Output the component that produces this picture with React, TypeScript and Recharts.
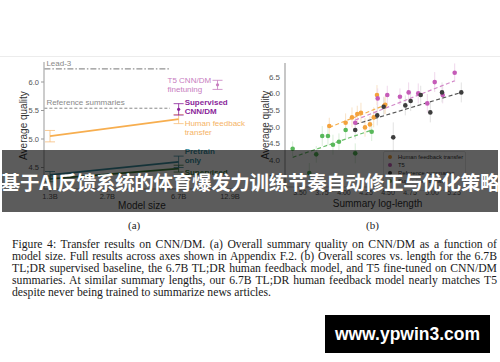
import React from 'react';
import { ComposedChart, Line, Scatter, XAxis, YAxis, ErrorBar } from 'recharts';

// (a) quality vs model size
const modelSizeTicks = [1.3, 2.7, 6.7, 12.9];
const qualityTicksA = [4.5, 5.0, 5.5, 6.0];
const transferSizes = [1.3, 6.7];
const hfTransferQuality = [5.05, 5.35];
const hfTransferErr = [0.1, 0.08];
const pretrainQuality = [4.37, 4.6];
const pretrainErr = [0.06, 0.1];
const supervisedQuality = [4.3, 4.48];
const supervisedErr = [0.05, 0.06];
const supCnnSize = [6.7];
const supCnnQuality = [5.52];
const supCnnErr = [0.1];
const t5Size = [11];
const t5Quality = [5.95];
const t5Err = [0.08];
const baselineSpan = [1.21, 6.0];
const lead3Quality = 6.23;
const referenceQuality = 5.54;

// (b) quality vs summary log-length
const logLenTicks = [3.5, 3.75, 4.0, 4.25, 4.5, 4.75, 5.0, 5.25];
const qualityTicksB = [3.5, 4.0, 4.5, 5.0, 5.5, 6.0, 6.5];
const supLogLen = [3.417, 3.606, 3.685, 3.753, 3.818, 3.875, 3.943, 4.019, 4.128, 4.315];
const supQuality = [4.34, 3.61, 4.17, 4.72, 4.72, 4.46, 4.55, 4.9, 4.2, 4.85];
const supErr = [0.22, 0.3, 0.25, 0.3, 0.28, 0.3, 0.25, 0.3, 0.3, 0.28];
const supFitLen = [3.417, 4.315];
const supFit = [4.08, 4.9];
const hfLogLen = [3.833, 4.019, 4.091, 4.151, 4.193, 4.239, 4.295, 4.338, 4.375, 4.458, 4.469];
const hfQuality = [5.02, 5.12, 5.28, 5.38, 5.42, 4.98, 5.07, 5.28, 5.95, 5.63, 5.66];
const hfErr = [0.25, 0.28, 0.3, 0.25, 0.3, 0.28, 0.25, 0.3, 0.3, 0.25, 0.28];
const hfFitLen = [3.833, 4.469];
const hfFit = [4.98, 5.65];
const t5LogLen = [4.128, 4.383, 4.492, 4.636, 4.735, 4.844, 4.947, 5.031, 5.122, 5.258];
const t5QualityB = [5.12, 5.85, 5.95, 5.9, 6.03, 6.0, 5.7, 6.34, 5.95, 6.62];
const t5ErrB = [0.25, 0.3, 0.28, 0.25, 0.3, 0.3, 0.28, 0.3, 0.25, 0.28];
const t5FitLen = [4.128, 5.258];
const t5Fit = [5.2, 6.38];
const refLogLen = [4.128, 4.378, 4.451, 4.56, 4.697, 4.758, 4.872, 4.981, 5.114, 5.333];
const refQuality = [4.9, 5.34, 5.6, 4.68, 5.64, 5.77, 5.95, 5.43, 6.03, 6.03];
const refErr = [0.28, 0.3, 0.3, 0.45, 0.3, 0.3, 0.28, 0.3, 0.3, 0.3];
const refFitLen = [4.128, 5.333];
const refFit = [5.07, 6.03];
const legendNames = ['Human feedback transfer', 'T5', 'Reference summaries', 'Supervised transfer'];
const legendColors = ['#f4a23c', '#c55bb8', '#3d3d3d', '#58b85a'];

const caption = [
  'Figure 4: Transfer results on CNN/DM. (a) Overall summary quality on CNN/DM as a function of',
  'model size. Full results across axes shown in Appendix F.2. (b) Overall scores vs. length for the 6.7B',
  'TL;DR supervised baseline, the 6.7B TL;DR human feedback model, and T5 fine-tuned on CNN/DM',
  'summaries. At similar summary lengths, our 6.7B TL;DR human feedback model nearly matches T5',
  'despite never being trained to summarize news articles.',
];

const zip = (xs: number[], vs: number[], es?: number[]) =>
  xs.map((x, i) => ({ x, v: vs[i], e: es ? es[i] : 0 }));

const sans = '"Liberation Sans", Arial, sans-serif';
const tickStyle = { fontSize: 7.5, fill: '#555', fontFamily: sans };

// label drawn at one end of a line series
const endLabel = (lines: string[], color: string, idx: number, dx: number, dy: number, bold: boolean, size = 8) =>
  (p: any) => {
    if (p.index !== idx) return <g key={p.index} />;
    return (
      <text key={p.index} x={p.cx + dx} y={p.cy + dy} fill={color} fontSize={size}
        fontWeight={bold ? 700 : 400} fontFamily={sans} dominantBaseline="middle">
        {lines.map((l, i) => (
          <tspan key={i} x={p.cx + dx} dy={i === 0 ? 0 : 9}>{l}</tspan>
        ))}
      </text>
    );
  };

const pointWithLabel = (color: string, lines: string[], dx: number, dy: number, bold: boolean) =>
  (p: any) => (
    <g>
      <circle cx={p.cx} cy={p.cy} r={1.6} fill={color} />
      <text x={p.cx + dx} y={p.cy + dy} fill={color} fontSize={8} fontWeight={bold ? 700 : 400}
        fontFamily={sans} dominantBaseline="middle">
        {lines.map((l, i) => (
          <tspan key={i} x={p.cx + dx} dy={i === 0 ? 0 : 8.5}>{l}</tspan>
        ))}
      </text>
    </g>
  );

const dotShape = (color: string) => (p: any) => <circle cx={p.cx} cy={p.cy} r={2.3} fill={color} />;

function ChartA() {
  return (
    <ComposedChart width={250} height={160} margin={{ top: 6, right: 10, left: 0, bottom: 5 }}>
      <XAxis type="number" dataKey="x" scale="log" domain={[1.204, 14.65]}
        ticks={modelSizeTicks} tickFormatter={(v) => `${v}B`} tick={tickStyle} tickSize={3} tickMargin={2}
        stroke="#999" height={22}
        label={{ value: 'Model size', position: 'insideBottom', offset: 2, fontSize: 10, fill: '#333', fontFamily: sans }} />
      <YAxis type="number" dataKey="v" domain={[4.123, 6.351]} ticks={qualityTicksA}
        tickFormatter={(v) => v.toFixed(1)} tick={tickStyle} tickSize={3} tickMargin={2} stroke="#999" width={44}
        label={{ value: 'Average quality', angle: -90, position: 'insideLeft', offset: 23, fontSize: 10, fill: '#333', fontFamily: sans, style: { textAnchor: 'middle' } }} />
      <Line data={zip(baselineSpan, [lead3Quality, lead3Quality])} dataKey="v" stroke="#777" strokeWidth={1}
        strokeDasharray="6 2 1.5 2" isAnimationActive={false}
        dot={endLabel(['Lead-3'], '#888', 0, 2, -5, false)} activeDot={false} />
      <Line data={zip(baselineSpan, [referenceQuality, referenceQuality])} dataKey="v" stroke="#888" strokeWidth={1}
        strokeDasharray="3 2" isAnimationActive={false}
        dot={endLabel(['Reference summaries'], '#888', 0, 2, -5, false)} activeDot={false} />
      <Line data={zip(transferSizes, supervisedQuality, supervisedErr)} dataKey="v" stroke="#3e7d3e" strokeWidth={1.8}
        isAnimationActive={false} dot={endLabel(['Supervised'], '#3e7d3e', 1, 6, 4, true)} activeDot={false}>
        <ErrorBar dataKey="e" direction="y" width={5} stroke="#3e7d3e" strokeWidth={0.8} />
      </Line>
      <Line data={zip(transferSizes, pretrainQuality, pretrainErr)} dataKey="v" stroke="#3a8c9c" strokeWidth={1.8}
        isAnimationActive={false} dot={endLabel(['Pretrain', 'only'], '#3a8c9c', 1, 6, -9.5, true)} activeDot={false}>
        <ErrorBar dataKey="e" direction="y" width={5} stroke="#3a8c9c" strokeWidth={0.8} />
      </Line>
      <Line data={zip(transferSizes, hfTransferQuality, hfTransferErr)} dataKey="v" stroke="#f7ae4f" strokeWidth={1.8}
        isAnimationActive={false} dot={endLabel(['Human feedback', 'transfer'], '#f5b366', 1, 6, 5, false)} activeDot={false}>
        <ErrorBar dataKey="e" direction="y" width={5} stroke="#f7be7a" strokeWidth={0.8} />
      </Line>
      <Scatter data={zip(supCnnSize, supCnnQuality, supCnnErr)} dataKey="v" isAnimationActive={false}
        shape={pointWithLabel('#8a1f9a', ['Supervised', 'CNN/DM'], 6, -6, true)}>
        <ErrorBar dataKey="e" direction="y" width={5} stroke="#8a1f9a" strokeWidth={0.8} />
      </Scatter>
      <Scatter data={zip(t5Size, t5Quality, t5Err)} dataKey="v" isAnimationActive={false}
        shape={pointWithLabel('#c77dc0', ['T5 CNN/DM', 'finetuning'], -50, -3.8, false)}>
        <ErrorBar dataKey="e" direction="y" width={5} stroke="#c77dc0" strokeWidth={0.8} />
      </Scatter>
    </ComposedChart>
  );
}

function ChartB() {
  const series = [
    { len: supLogLen, q: supQuality, e: supErr, fl: supFitLen, f: supFit, c: '#58b85a', bar: '#d9eed9', fit: '#6cc06c' },
    { len: hfLogLen, q: hfQuality, e: hfErr, fl: hfFitLen, f: hfFit, c: '#f4a23c', bar: '#f8e2c6', fit: '#f5b050' },
    { len: t5LogLen, q: t5QualityB, e: t5ErrB, fl: t5FitLen, f: t5Fit, c: '#c55bb8', bar: '#f0d8ec', fit: '#d389c9' },
    { len: refLogLen, q: refQuality, e: refErr, fl: refFitLen, f: refFit, c: '#3d3d3d', bar: '#e2e2e2', fit: '#555' },
  ];
  return (
    <ComposedChart width={250} height={160} margin={{ top: 7, right: 30, left: 0, bottom: 7 }}>
      <XAxis type="number" dataKey="x" domain={[3.33, 5.432]} allowDataOverflow ticks={logLenTicks}
        tickFormatter={(v) => v.toFixed(2)} tick={{ ...tickStyle, fontSize: 7 }} tickSize={2} tickMargin={1}
        tickLine={false} stroke="#bbb" height={22}
        label={{ value: 'Summary log-length', position: 'insideBottom', offset: 2, fontSize: 10, fill: '#333', fontFamily: sans }} />
      <YAxis type="number" dataKey="v" domain={[3.19, 6.913]} allowDataOverflow ticks={qualityTicksB}
        tickFormatter={(v) => v.toFixed(1)} tick={{ ...tickStyle, fontSize: 8 }} tickLine={false} tickSize={2} tickMargin={3}
        stroke="#b5b5b5" strokeWidth={1.5} width={35}
        label={{ value: 'Average quality', angle: -90, position: 'insideLeft', offset: 15, fontSize: 10, fill: '#333', fontFamily: sans, style: { textAnchor: 'middle' } }} />
      {series.map((s, i) => (
        <Scatter key={`p${i}`} data={zip(s.len, s.q, s.e)} dataKey="v" isAnimationActive={false} shape={dotShape(s.c)}>
          <ErrorBar dataKey="e" direction="y" width={0} stroke={s.bar} strokeWidth={1} />
        </Scatter>
      ))}
      {series.map((s, i) => (
        <Line key={`f${i}`} data={zip(s.fl, s.f)} dataKey="v" stroke={s.fit} strokeWidth={1.2} strokeDasharray="4 2.5"
          dot={false} activeDot={false} isAnimationActive={false} />
      ))}
    </ComposedChart>
  );
}

export default function App() {
  return (
    <div style={{ position: 'absolute', left: 0, top: 0, width: 500, height: 362, background: '#fff', overflow: 'hidden' }}>
      <div style={{ position: 'absolute', left: 0, top: 56, width: 500, height: 1, background: '#ececec' }} />
      <div style={{ position: 'absolute', left: 0, top: 56 }}><ChartA /></div>
      <div style={{ position: 'absolute', left: 250, top: 56 }}>
        <ChartB />
        <div style={{ position: 'absolute', left: 133, top: 95, width: 83, height: 40, border: '1px solid #e2e2e2',
          borderRadius: 2, background: 'rgba(255,255,255,0.85)', fontFamily: sans, fontSize: 5.8, color: '#333', boxSizing: 'border-box', paddingTop: 1 }}>
          {legendNames.map((n, i) => (
            <div key={n} style={{ display: 'flex', alignItems: 'center', height: 8 }}>
              <span style={{ width: 3.5, height: 3.5, borderRadius: 2, background: legendColors[i], marginLeft: 4, marginRight: 6.5 }} />
              <span>{n}</span>
            </div>
          ))}
        </div>
      </div>
      <div style={{ position: 'absolute', left: 128, top: 219, fontFamily: '"Liberation Serif", serif', fontSize: 11, color: '#222' }}>(a)</div>
      <div style={{ position: 'absolute', left: 366, top: 219, fontFamily: '"Liberation Serif", serif', fontSize: 11, color: '#222' }}>(b)</div>
      <div style={{ position: 'absolute', left: 2, top: 150, width: 496, height: 62, background: 'rgba(0,0,0,0.64)',
        display: 'flex', alignItems: 'center', justifyContent: 'center' }}>
        <span style={{ color: '#fff', fontFamily: '"Noto Sans CJK SC", sans-serif', fontWeight: 700, fontSize: 19.5, whiteSpace: 'nowrap', letterSpacing: -0.3 }}>
          基于AI反馈系统的体育爆发力训练节奏自动修正与优化策略
        </span>
      </div>
      <div style={{ position: 'absolute', left: 12, top: 239, width: 485, fontFamily: '"Liberation Serif", serif', fontSize: 11.7, lineHeight: '12px', color: '#1a1a1a' }}>
        {caption.map((l, i) => (
          <div key={i} style={{ textAlign: 'justify', textAlignLast: i < caption.length - 1 ? 'justify' : 'left', whiteSpace: 'nowrap' }}>{l}</div>
        ))}
      </div>
      <div style={{ position: 'absolute', left: 325, top: 315, width: 165, height: 38, background: '#000',
        display: 'flex', alignItems: 'center', justifyContent: 'center' }}>
        <span style={{ color: '#fff', fontFamily: sans, fontWeight: 700, fontSize: 17.5 }}>www.ypwin3.com</span>
      </div>
    </div>
  );
}
